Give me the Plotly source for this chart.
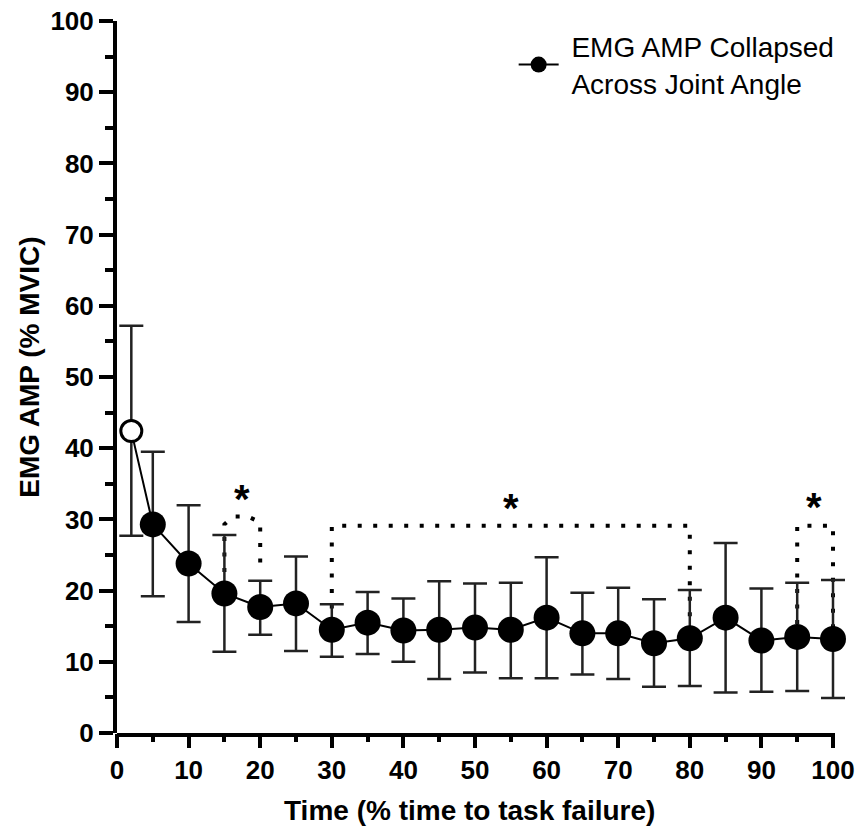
import plotly.graph_objects as go

# Data
time_pct = [2, 5, 10, 15, 20, 25, 30, 35, 40, 45, 50, 55, 60, 65, 70, 75, 80, 85, 90, 95, 100]
emg_mean = [42.4, 29.3, 23.8, 19.6, 17.7, 18.2, 14.5, 15.5, 14.4, 14.5, 14.8, 14.5, 16.2, 14.0, 14.0, 12.6, 13.3, 16.2, 13.0, 13.5, 13.2]
emg_upper = [57.2, 39.5, 32.0, 27.8, 21.4, 24.8, 18.1, 19.8, 18.9, 21.3, 21.0, 21.1, 24.7, 19.7, 20.4, 18.8, 20.1, 26.7, 20.3, 21.1, 21.5]
emg_lower = [27.7, 19.2, 15.6, 11.4, 13.8, 11.5, 10.7, 11.1, 10.0, 7.6, 8.5, 7.7, 7.7, 8.2, 7.6, 6.5, 6.6, 5.7, 5.8, 5.9, 4.9]

x_ticks = list(range(0, 101, 10))
y_ticks = list(range(0, 101, 10))

# significance brackets (x path, y path) and star positions
bracket1_x = [15, 15, 16.2, 18.3, 20, 20]
bracket1_y = [22.6, 29.3, 30.4, 30.4, 29.6, 23.0]
bracket2_x = [30, 30, 80, 80]
bracket2_y = [17.5, 29.1, 29.1, 15.8]
bracket3_x = [95, 95, 100, 100]
bracket3_y = [15.3, 29.1, 29.1, 14.8]
star_x = [17.5, 55, 97.3]
star_y = [32.8, 31.6, 31.7]

FONT = "Arial, Liberation Sans, sans-serif"

err_plus = [u - m for u, m in zip(emg_upper, emg_mean)]
err_minus = [m - l for m, l in zip(emg_mean, emg_lower)]

fig = go.Figure()

dot_dash = "4px,11.5px"
for bx, by in [(bracket1_x, bracket1_y), (bracket2_x, bracket2_y), (bracket3_x, bracket3_y)]:
    fig.add_trace(go.Scatter(x=bx, y=by, mode="lines",
                             line=dict(color="black", width=4, dash=dot_dash),
                             showlegend=False, hoverinfo="skip", cliponaxis=False))

colors = ["white"] + ["black"] * (len(time_pct) - 1)
sizes = [21] + [26] * (len(time_pct) - 1)
lw = [3] + [0] * (len(time_pct) - 1)

fig.add_trace(go.Scatter(
    x=time_pct, y=emg_mean, mode="lines+markers",
    line=dict(color="black", width=2),
    marker=dict(color=colors, size=sizes, opacity=1, line=dict(color="black", width=lw)),
    error_y=dict(type="data", symmetric=False, array=err_plus, arrayminus=err_minus,
                 color="#222222", thickness=2.5, width=12),
    showlegend=False, cliponaxis=False,
))

fig.add_trace(go.Scatter(
    x=[None], y=[None], mode="lines+markers",
    name="&nbsp;EMG AMP Collapsed<br>&nbsp;Across Joint Angle",
    line=dict(color="black", width=2),
    marker=dict(color="black", size=20),
))

for sx, sy in zip(star_x, star_y):
    fig.add_annotation(x=sx, y=sy, text="<b>*</b>", showarrow=False,
                       font=dict(family=FONT, size=40, color="black"),
                       xanchor="center", yanchor="middle")

fig.add_annotation(xref="paper", yref="paper", x=-0.1215 * 716 / 734, y=0.513,
                   text="<b>EMG AMP (% MVIC)</b>", textangle=-90, showarrow=False,
                   font=dict(family=FONT, size=28, color="black"),
                   xanchor="center", yanchor="middle")

fig.add_annotation(xref="paper", yref="paper", x=352 / 734, y=-77 / 712,
                   text="<b>Time (% time to task failure)</b>", showarrow=False,
                   font=dict(family=FONT, size=28, color="black"),
                   xanchor="center", yanchor="middle")

# x axis baseline drawn from 0 to 100 (axis range extended so end error caps are not clipped)
fig.add_shape(type="line", xref="x", yref="paper", x0=-0.28, x1=100.28,
              y0=-2 / 712, y1=-2 / 712, line=dict(color="black", width=4), layer="above")

x_max = 100 * 734 / 716

fig.update_layout(
    width=856, height=831,
    margin=dict(l=117, r=5, t=21, b=98),
    plot_bgcolor="white", paper_bgcolor="white",
    font=dict(family=FONT, color="black"),
    legend=dict(x=0.554 * 716 / 734, y=0.999, xanchor="left", yanchor="top",
                font=dict(family=FONT, size=28, color="black"),
                bgcolor="rgba(0,0,0,0)", itemwidth=40),
)

fig.update_xaxes(
    range=[0, x_max], tickvals=x_ticks, automargin=False,
    ticklabeloverflow="allow",
    showline=False,
    ticks="outside", ticklen=14, tickwidth=4, tickcolor="black",
    minor=dict(tickvals=[5, 15, 25, 35, 45, 55, 65, 75, 85, 95], ticks="outside",
               ticklen=8, tickwidth=4, tickcolor="black"),
    showgrid=False, zeroline=False,
    tickfont=dict(family=FONT, size=26, color="black", weight="bold"),
)
fig.update_yaxes(
    range=[0, 100], tickvals=y_ticks, automargin=False,
    ticklabeloverflow="allow",
    showline=True, linecolor="black", linewidth=4,
    ticks="outside", ticklen=14, tickwidth=4, tickcolor="black",
    minor=dict(dtick=5, ticks="outside", ticklen=8, tickwidth=4, tickcolor="black"),
    showgrid=False, zeroline=False,
    tickfont=dict(family=FONT, size=26, color="black", weight="bold"),
)

fig.write_html("out.html", config={"displayModeBar": False},
               post_script="document.body.style.margin='0';document.body.style.overflow='hidden';")
